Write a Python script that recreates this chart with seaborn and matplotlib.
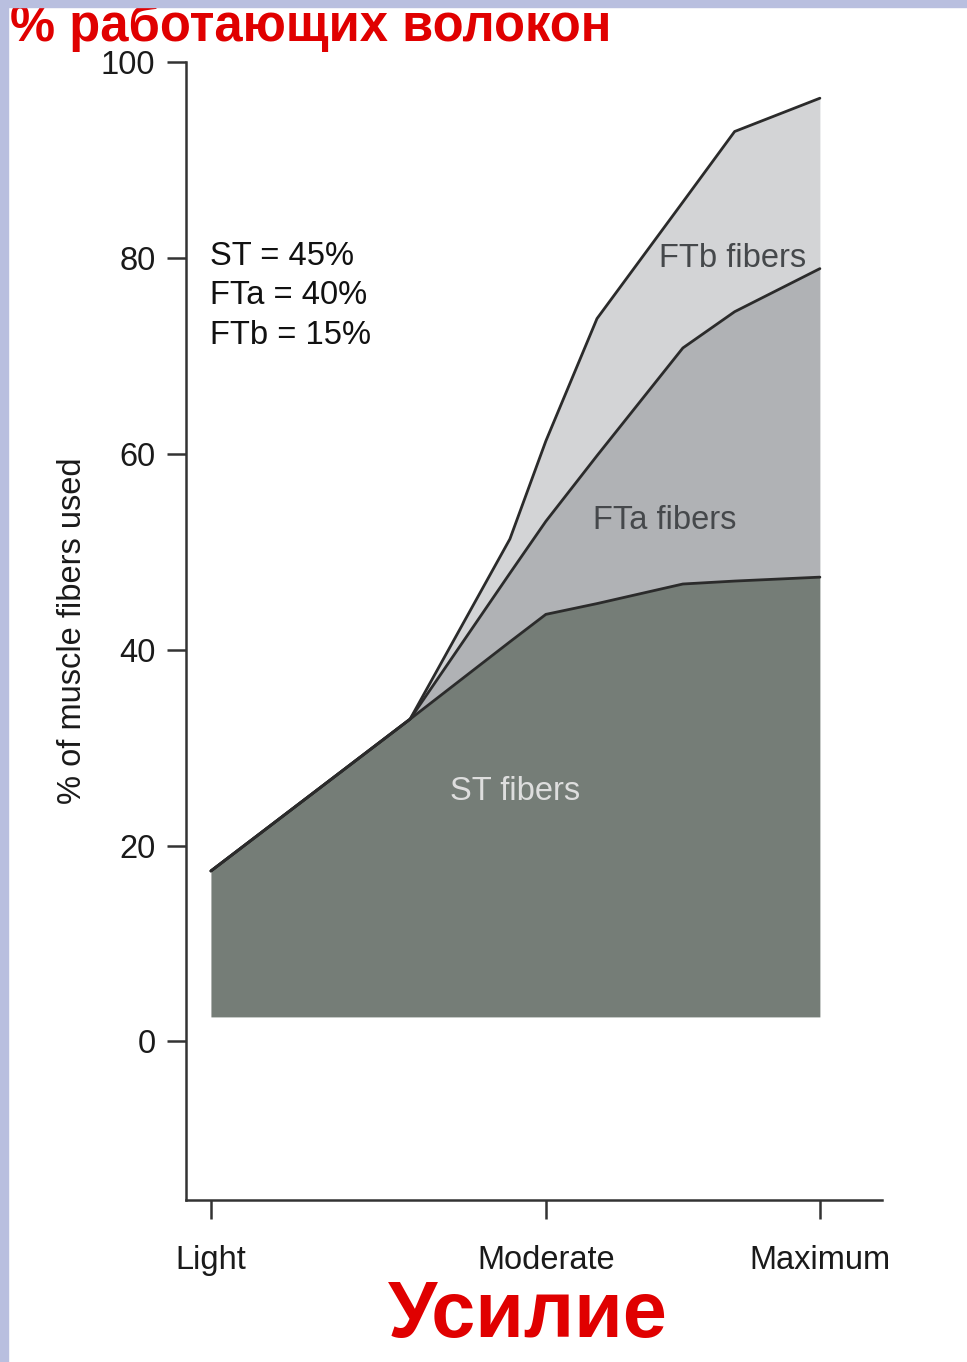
import numpy as np
import pandas as pd
import matplotlib
matplotlib.use("Agg")
import matplotlib.pyplot as plt
import seaborn as sns
from matplotlib.patches import Rectangle

# effort scale: Light = 0, Maximum = 100 (Moderate sits at 55 on the original drawing)
effort = [0, 32.7, 49.1, 55.0, 63.4, 77.5, 86.0, 100]
# cumulative % of fibers recruited (top edge of each band)
st_top = [17.4, 32.9, 40.8, 43.6, 44.7, 46.7, 47.0, 47.4]
fta_top = [17.4, 32.9, 47.8, 53.1, 59.8, 70.8, 74.5, 78.9]
ftb_top = [17.4, 32.9, 51.3, 61.3, 73.8, 85.7, 92.9, 96.3]
band_base = 2.5

tick_pos = [0, 55, 100]
tick_labels = ["Light", "Moderate", "Maximum"]
y_ticks = [0, 20, 40, 60, 80, 100]

sns.set_style("ticks")
plt.rcParams["font.family"] = ["Liberation Sans", "DejaVu Sans"]

fig = plt.figure(figsize=(9.67, 13.62), dpi=100)
ax = fig.add_axes([0.1923, 0.1189, 0.7198, 0.8356])

ink = "#2b2b2b"
ax.fill_between(effort, band_base, st_top, color="#757d77", lw=0)
ax.fill_between(effort, st_top, fta_top, color="#b0b2b5", lw=0)
ax.fill_between(effort, fta_top, ftb_top, color="#d3d4d6", lw=0)

lines = pd.DataFrame({
    "effort": effort * 3,
    "pct": st_top + fta_top + ftb_top,
    "band": ["ST"] * len(effort) + ["FTa"] * len(effort) + ["FTb"] * len(effort),
})
sns.lineplot(data=lines, x="effort", y="pct", units="band", estimator=None,
             color=ink, lw=2.0, ax=ax, sort=False)

ax.set_xlim(-4.1, 110.2)
ax.set_ylim(-16.2, 100)
ax.set_xticks(tick_pos)
ax.set_xticklabels(tick_labels)
ax.set_yticks(y_ticks)
ax.set_xlabel("")
ax.set_ylabel("% of muscle fibers used", fontsize=23.5, color="#1a1a1a", labelpad=9)

sns.despine(ax=ax)
for s in ["left", "bottom"]:
    ax.spines[s].set_color("#333333")
    ax.spines[s].set_linewidth(1.8)
ax.tick_params(axis="both", direction="out", length=14, width=1.8, color="#333333",
               labelsize=23.5, labelcolor="#1a1a1a")
ax.tick_params(axis="y", pad=8)
ax.tick_params(axis="x", pad=18)

ax.text(-0.1, 81.7, "ST = 45%\nFTa = 40%\nFTb = 15%", fontsize=23.5, color="#111111",
        va="top", ha="left", linespacing=1.34)
ax.text(49.9, 25.5, "ST fibers", fontsize=23.5, color="#dedede", ha="center", va="center")
ax.text(74.5, 53.2, "FTa fibers", fontsize=23.5, color="#45484b", ha="center", va="center")
ax.text(85.7, 79.9, "FTb fibers", fontsize=23.5, color="#45484b", ha="center", va="center")

fig.text(10 / 967, 1 - 27 / 1362, "% работающих волокон", fontsize=36.5, fontweight="bold",
         color="#e00000", ha="left", va="center")
fig.text(528 / 967, 1 - 1317 / 1362, "Усилие", fontsize=57, fontweight="bold",
         color="#e00000", ha="center", va="center")

# slide frame
fig.patches.append(Rectangle((0, 0), 8 / 967, 1, transform=fig.transFigure,
                             color="#b9bfdf", zorder=5))
fig.patches.append(Rectangle((0, 1 - 7 / 1362), 1, 7 / 1362, transform=fig.transFigure,
                             color="#b9bfdf", zorder=5))

fig.savefig("out.png", dpi=100)
